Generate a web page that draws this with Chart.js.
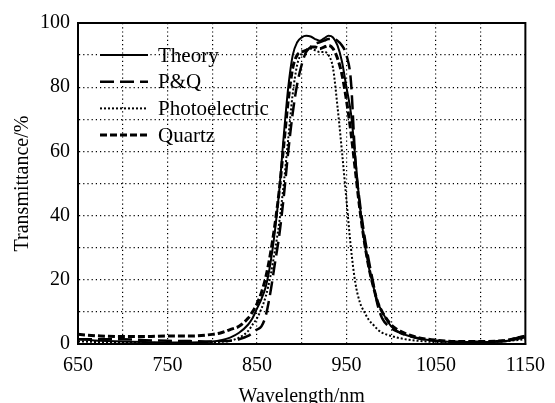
<!DOCTYPE html>
<html>
<head>
<meta charset="utf-8">
<script src="https://cdn.jsdelivr.net/npm/chart.js@4.4.1/dist/chart.umd.min.js"></script>
<style>
  html, body { margin: 0; padding: 0; background: #fff; }
  #wrap { width: 555px; height: 403px; }
</style>
</head>
<body>
<div id="wrap"><canvas id="chart" width="555" height="403"></canvas></div>
<script>
// wavelength samples (nm), shared by every series
const wavelengths = [650, 675, 700, 725, 750, 775, 800, 810, 820, 830, 840, 845, 850, 855, 860, 865, 870, 875, 880, 885,
  890, 895, 900, 905, 910, 915, 920, 925, 930, 935, 940, 945, 950, 955, 960, 965, 970, 975, 980, 985,
  990, 1000, 1010, 1020, 1030, 1050, 1075, 1100, 1125, 1150]

const theory = [1.5, 1, 0.8, 0.6, 0.5, 0.5, 0.8, 1.2, 2, 3.5, 6, 8, 11, 14, 18, 25, 35, 48, 65, 80,
  90, 94, 95.5, 96, 95.8, 95, 94.5, 95.2, 96, 95.5, 93, 88, 80, 72, 58, 43, 32, 24, 18, 13,
  10, 5.5, 3.5, 2.5, 1.8, 1, 0.6, 0.6, 0.8, 2]

const pq = [1.5, 1.5, 1.5, 1.2, 1, 0.9, 0.8, 0.9, 1, 1.5, 2.5, 3.5, 4.5, 5.5, 9, 16, 25, 34, 46, 60,
  72, 81, 87, 91, 92.5, 93.5, 94, 94.5, 95, 95, 94.5, 93, 90, 82, 57, 44, 34, 26, 19, 12,
  8, 5, 3.5, 2.5, 1.8, 1, 0.7, 0.7, 1, 2.5]

const photoelectric = [0.8, 0.6, 0.5, 0.4, 0.3, 0.3, 0.5, 0.7, 1, 2, 4, 6, 8, 11, 15, 21, 29, 38, 50, 64,
  78, 87, 90.5, 91.5, 92, 91.5, 91, 91, 90, 86, 74, 60, 45, 30, 19, 13, 10, 7.5, 6, 4.5,
  3.5, 2.5, 1.8, 1.3, 1, 0.6, 0.5, 0.5, 0.8, 1.5]

const quartz = [3, 2.5, 2.3, 2.3, 2.5, 2.5, 3, 3.5, 4.5, 5.5, 8, 10, 12.5, 16, 21, 28, 37, 48, 62, 76,
  86, 90, 91, 91.5, 92.5, 92.5, 92, 92.5, 93, 92, 89, 84, 76, 66, 54, 42, 32, 24, 18, 13,
  10, 6, 4, 2.8, 2, 1.2, 0.8, 0.8, 1, 2.5]

const seriesNames = ['Theory', 'P&Q', 'Photoelectric', 'Quartz']
const xTickLabels = [650, 750, 850, 950, 1050, 1150]
const yTickLabels = [0, 20, 40, 60, 80, 100]

const toPoints = (vals) => wavelengths.map((w, i) => ({x: w, y: vals[i]}))

const serif = '"Liberation Serif", "DejaVu Serif", serif'

// grid lines at the frame edges are hidden, the frame covers them
const gridColor = (min, max) => (ctx) => {
  const v = ctx.tick && ctx.tick.value
  return (v === min || v === max) ? 'rgba(0,0,0,0)' : '#000'
}

// frame round the plot area and the legend inside it
const framePlugin = {
  id: 'frame',
  afterDraw(chart) {
    const {ctx, chartArea: a} = chart
    ctx.save()
    ctx.strokeStyle = '#000'
    ctx.lineWidth = 2
    ctx.setLineDash([])
    ctx.strokeRect(a.left, a.top, a.right - a.left, a.bottom - a.top)

    ctx.font = '21px ' + serif
    ctx.fillStyle = '#000'
    ctx.textBaseline = 'middle'
    ctx.textAlign = 'left'
    chart.data.datasets.forEach((ds, i) => {
      const y = a.top + 32 + i * 26.7
      ctx.beginPath()
      ctx.lineWidth = ds.borderWidth
      ctx.setLineDash(ds.borderDash || [])
      ctx.moveTo(a.left + 22, y)
      ctx.lineTo(a.left + 70, y)
      ctx.stroke()
      ctx.setLineDash([])
      ctx.fillText(ds.label, a.left + 80, y + 1)
    })
    ctx.restore()
  }
}

const styles = [
  {borderWidth: 2, borderDash: []},
  {borderWidth: 2.5, borderDash: [14, 6]},
  {borderWidth: 2, borderDash: [2, 2]},
  {borderWidth: 3, borderDash: [7, 3]}
]
const allSeries = [theory, pq, photoelectric, quartz]

new Chart(document.getElementById('chart'), {
  type: 'line',
  data: {
    datasets: allSeries.map((vals, i) => ({
      label: seriesNames[i],
      data: toPoints(vals),
      borderColor: '#000',
      borderWidth: styles[i].borderWidth,
      borderDash: styles[i].borderDash,
      pointRadius: 0,
      fill: false,
      cubicInterpolationMode: 'monotone'
    }))
  },
  options: {
    responsive: false,
    animation: false,
    layout: {padding: {top: 23, right: 20, left: 0, bottom: 0}},
    plugins: {legend: {display: false}, tooltip: {enabled: false}},
    scales: {
      x: {
        type: 'linear',
        min: 650,
        max: 1150,
        afterFit: (s) => { s.height = 59 },
        ticks: {
          stepSize: 50,
          autoSkip: false,
          maxRotation: 0,
          padding: 10,
          color: '#000',
          font: {family: serif, size: 20},
          callback: (v) => xTickLabels.includes(v) ? String(v) : ''
        },
        grid: {
          drawTicks: false,
          color: gridColor(650, 1150),
          lineWidth: 1.2
        },
        border: {display: true, color: '#000', width: 2, dash: [1.2, 3]},
        title: {
          display: true,
          text: 'Wavelength/nm',
          color: '#000',
          font: {family: serif, size: 20},
          padding: {top: 0, bottom: -6}
        }
      },
      y: {
        min: 0,
        max: 100,
        afterFit: (s) => { s.width = 78 },
        ticks: {
          stepSize: 10,
          autoSkip: false,
          padding: 8,
          color: '#000',
          font: {family: serif, size: 20},
          callback: (v) => yTickLabels.includes(v) ? String(v) : ''
        },
        grid: {
          drawTicks: false,
          color: gridColor(0, 100),
          lineWidth: 1.2
        },
        border: {display: true, color: '#000', width: 2, dash: [1.2, 3]},
        title: {
          display: true,
          text: 'Transmittance/%',
          color: '#000',
          font: {family: serif, size: 20},
          padding: {top: 11, bottom: 0}
        }
      }
    }
  },
  plugins: [framePlugin]
})
</script>
</body>
</html>
